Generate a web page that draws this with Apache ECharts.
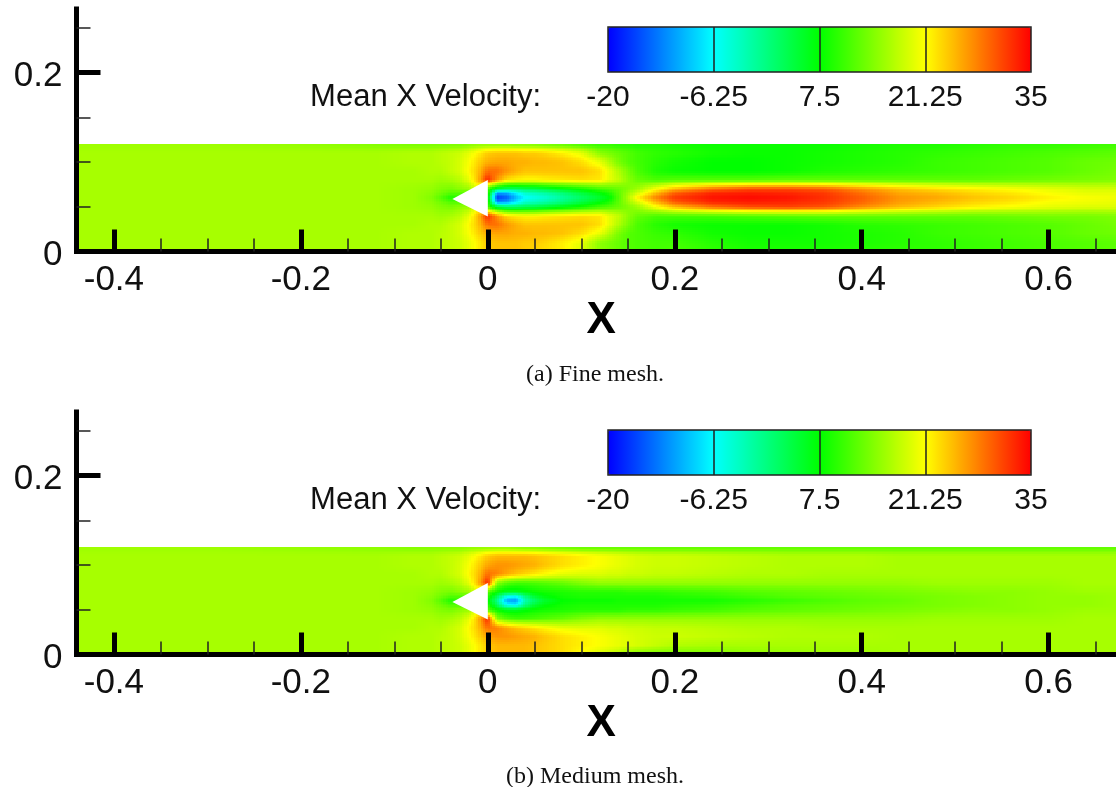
<!DOCTYPE html>
<html><head><meta charset="utf-8">
<style>html,body{margin:0;padding:0;background:#fff}#c{width:1116px;height:787px}</style>
<script src="https://cdn.jsdelivr.net/npm/echarts@6/dist/echarts.min.js"></script>
</head><body><div id="c"></div>
<script>
const xMajor = [-0.4,-0.2,0,0.2,0.4,0.6];
const xMinor = [-0.35,-0.3,-0.25,-0.15,-0.1,-0.05,0.05,0.1,0.15,0.25,0.3,0.35,0.45,0.5,0.55,0.65];
const yMajor = [0,0.2];
const yMinor = [0.05,0.1,0.15,0.25];
const barTicks = [-20,-6.25,7.5,21.25,35];
const barColors = ['#0000ff','#00ffff','#00ff00','#ffff00','#ff0000'];
const wedgeX = [-0.0379,0,0];
const wedgeY = [0.0587,0.080,0.039];
const xNodes = [-0.44,-0.3,-0.2,-0.12,-0.08,-0.06,-0.05,-0.04,-0.03,-0.02,-0.01,0,0.01,0.02,0.03,0.04,0.05,0.06,0.08,0.10,0.12,0.13,0.14,0.15,0.16,0.18,0.20,0.24,0.28,0.32,0.36,0.40,0.44,0.48,0.52,0.56,0.60,0.64,0.68];
const yNodes = [0.12,0.11,0.10,0.09,0.08,0.07,0.065,0.06,0.055,0.05,0.04,0.03,0.02,0.01,0];
const fineVelocity = [
[16,16,15.5,14.5, 14,14,14,14, 14,14.5,15,15, 15,15,14.5,14.5, 14,13.5,12.5,11, 10,10,9.5,9.5, 9,9,8.5,8, 8,8,8,8.5, 9,9,9.5,10, 10,10.5,11],
[16.5,16.5,16.5,16.5, 17,17,17.5,18, 18.5,20,22,24, 24.5,24.5,24.5,24, 24,23.5,22,20, 15,14,13,12, 11,10,9.5,8.5, 8,8,8.5,9, 9.5,10,10.5,11, 11.5,12,12.5],
[16.5,16.5,16.5,16.5, 17,17,17.5,18, 19,21,23.5,25.5, 26,26,25.5,25.5, 25,25,24.5,23, 20,17,14,12, 11,9.5,8.5,7.5, 7.5,8,8.5,9, 9.5,10.5,11,11.5, 12,13,13.5],
[16.5,16.5,16.5,16.5, 16.5,17,17,18, 19,21.5,24.5,29, 29,27,25.5,24.5, 24.5,24.5,24.5,24.5, 23,20,17,14, 11.5,9,8,7.5, 7.5,8,9,9.5, 10,10.5,11,11.5, 12,13,14],
[16.5,16.5,16.5,16.5, 16.5,16.5,16,16.5, 17.5,20,25,33, 27,23,22,21.5, 21.5,22,22.5,23, 22.5,20,18,15, 13,11.5,12,12, 12,12.5,12.5,12.5, 12.5,12.5,12.5,13, 13.5,14,14.5],
[16.5,16.5,16.5,16.5, 16,15.5,14.5,14, 15,16,20,11, 4,2,2,3, 3.5,4.5,6.5,8.5, 11,12,13,14.5, 16,21,25,29, 31,31,30,27, 24.5,23,22,21, 20,19,19],
[16.5,16.5,16.5,16.5, 16,15,13.5,12, 12,12,12,11, -12,-11,-7,-3.5, -2.5,-1.5,1,4, 7,9,12.5,16, 19,25,30,33, 33.5,33,32,29, 26,25,23.5,22.5, 21,20,20],
[16.5,16.5,16.5,16.5, 16,14.5,12,9, 10,10,10,9, -17,-15,-10,-6.5, -5,-4,-1,2, 5,7,12,17, 22,28,32,34, 34.5,34,32.5,30, 27,26,24.5,23.5, 22,21,20.5],
[16.5,16.5,16.5,16.5, 16,15,13.5,12, 12,12,12,11, -12,-11,-7,-3.5, -2.5,-1.5,1,4, 7,9,12.5,16, 19,25,30,33, 33.5,33,32,29.5, 26.5,25,23.5,22.5, 21,20.5,20],
[16.5,16.5,16.5,16.5, 16,15.5,14.5,14, 15,16,20,11, 4,2,2,3, 3.5,4.5,6.5,8.5, 11,12,13,14.5, 16,21,25,29, 31,31.5,30.5,27.5, 25,23.5,22,21, 20,19.5,19.5],
[16.5,16.5,16.5,16.5, 16.5,16.5,16,16.5, 17.5,20,25,33, 27,23,22,21.5, 21.5,22,22.5,23, 22.5,20,18,15, 13,11.5,11.5,11.5, 12,12.5,13,13, 13,13,13,13.5, 14,14,14.5],
[16.5,16.5,16.5,16.5, 16.5,17,17,18, 19,21.5,24.5,29, 29,27,25.5,24.5, 24.5,24.5,24.5,24.5, 23,20,17,14, 11.5,9.5,8.5,8, 8,8,8.5,9.5, 10,10.5,11,11.5, 12,13,14],
[16.5,16.5,16.5,16.5, 17,17,17.5,18, 19,21,23.5,25.5, 26,26,25.5,25.5, 25,25,24.5,23, 20,17,14,12, 11.5,10.5,10,8.5, 8,8,8.5,9, 9.5,10.5,11,11.5, 12,13,13.5],
[16.5,16.5,16.5,16.5, 17,17,17.5,18, 18.5,20,22,24, 24.5,24.5,24.5,24, 24,23.5,22,20, 15,14,13,12, 11.5,11,11,9.5, 8.5,8.5,8.5,9, 9.5,10,10.5,11, 11.5,12,12.5],
[16.5,16.5,16.5,16.5, 17,17,17.5,18, 18.5,20,22,24, 24.5,24.5,24.5,24, 23.5,23,22,19, 15,14,13,12, 11.5,11,11.5,10, 9,9,9,9.5, 10,10,10.5,11, 11.5,12,12.5]
];
const mediumVelocity = [
[16,16,15.5,15, 14.5,14.5,14.5,14.5, 14.5,15,15,15, 15,15,14.5,14, 14,13.5,13,12.5, 12.5,12.5,12.5,12.5, 12.5,12.5,12.5,12.5, 12.5,12.5,12.5,12.5, 12.5,12.5,12.5,12.5, 12.5,12.5,12.5],
[16.5,16.5,16.5,16.5, 17,17,17.5,18, 18.5,20,22,24, 25,25,25,25, 24.5,24,23,22, 21,20.5,20,19.5, 19,18.5,18.5,18, 17.5,17,17,17, 16.5,16.5,16.5,16.5, 16.5,16.5,16.5],
[16.5,16.5,16.5,16.5, 17,17,17.5,18, 19,21,23.5,26, 27,27,26.5,26, 25.5,24.5,23,22, 21,20.5,20,19.5, 19,18.5,18.5,18, 17.5,17,17,17, 16.5,16.5,16.5,16.5, 16.5,16.5,16.5],
[16.5,16.5,16.5,16.5, 16.5,17,17,18, 19,21.5,24.5,29, 28,26,24.5,23.5, 22.5,21.5,20,19.5, 19.5,19,19,18.5, 18.5,18,18,17.5, 17,17,16.5,16.5, 16.5,16.5,16.5,16.5, 16.5,16.5,16.5],
[16.5,16.5,16.5,16.5, 16.5,16.5,16,16.5, 17.5,20,25,33, 15,12,11,11, 11.5,12,13,14.5, 15.5,15.5,15.5,15.5, 15.5,15.5,15.5,15.5, 15.5,15.5,15.5,15.5, 15.5,16,16,16, 16,16.5,16.5],
[16.5,16.5,16.5,16.5, 16,15.5,14.5,14, 15,16,20,12, 8,6,6,7, 8,8.5,9,9.5, 9.5,9.5,9.5,10, 10,10,10.5,11, 12,12.5,13,13.5, 14,14.5,15,15, 15.5,16,16],
[16.5,16.5,16.5,16.5, 16,15,13.5,12, 12,12,12,10, 3,-5,-6,1, 5,7,8.5,9, 9,9,9,9, 9,9,9.5,10, 11,12,12.5,13, 13.5,14,14.5,15, 15.5,15.5,16],
[16.5,16.5,16.5,16.5, 16,14.5,12,9, 10,10,10,8, 0,-11,-12,-2, 2,5,7.5,8, 8,8,8.5,8.5, 8.5,8.5,8.5,8.5, 9.5,10.5,11.5,12.5, 13,14,14.5,15, 15.5,15.5,16],
[16.5,16.5,16.5,16.5, 16,15,13.5,12, 12,12,12,10, 3,-5,-6,1, 5,7,8.5,9, 9,9,9,9, 9,9,9.5,10, 11,12,12.5,13, 13.5,14,14.5,15, 15.5,15.5,16],
[16.5,16.5,16.5,16.5, 16,15.5,14.5,14, 15,16,20,12, 8,6,6,7, 8,8.5,9,9.5, 9.5,9.5,9.5,10, 10,10,10.5,11, 12,12.5,13,13.5, 14,14.5,15,15, 15.5,16,16],
[16.5,16.5,16.5,16.5, 16.5,16.5,16,16.5, 17.5,20,25,33, 15,12,11,11, 11.5,12,13,14.5, 15.5,15.5,15.5,15.5, 15.5,15.5,15.5,15.5, 15.5,15.5,15.5,15.5, 15.5,16,16,16, 16,16.5,16.5],
[16.5,16.5,16.5,16.5, 16.5,17,17,18, 19,21.5,24.5,29, 28,26,24.5,23.5, 22.5,21.5,20,19.5, 19.5,19,19,18.5, 18.5,18,18,17.5, 17,17,16.5,16.5, 16.5,16.5,16.5,16.5, 16.5,16.5,16.5],
[16.5,16.5,16.5,16.5, 17,17,17.5,18, 19,21,23.5,26, 27,27,26.5,26, 25.5,24.5,23,22, 21,20.5,20,19.5, 19,18.5,18.5,18, 17.5,17,17,17, 16.5,16.5,16.5,16.5, 16.5,16.5,16.5],
[16.5,16.5,16.5,16.5, 17,17,17.5,18, 18.5,20,22,24, 25,25,25,25, 24.5,24,23,22, 21,20.5,20,19.5, 19,18,17,16.5, 16.5,16.5,16.5,16.5, 16.5,16.5,16.5,16.5, 16.5,16.5,16.5],
[16.5,16.5,16.5,16.5, 17,17,17.5,18, 18.5,20,22,24, 25,25,25,25, 24.5,24,23,21, 19,18,17,15, 14,13.5,13.5,14, 15,15.5,16,16, 16.5,16.5,16.5,16.5, 16.5,16.5,16.5]
];

const FONT = '"Liberation Sans", Arial, sans-serif';
const SERIF = '"Liberation Serif", "DejaVu Serif", serif';
const rgb = barColors.map(c => [1,3,5].map(k => parseInt(c.substr(k,2),16)));
function colorOf(v){
  let k = 0;
  while (k < barTicks.length-2 && v > barTicks[k+1]) k++;
  const t = Math.max(0, Math.min(1, (v-barTicks[k])/(barTicks[k+1]-barTicks[k])));
  const a = rgb[k], b = rgb[k+1];
  return 'rgb(' + [0,1,2].map(n => Math.round(a[n]+(b[n]-a[n])*t)).join(',') + ')';
}
function cells(rows){
  const out = [];
  for (let j=0;j<yNodes.length-1;j++) for (let i=0;i<xNodes.length-1;i++)
    out.push([xNodes[i],yNodes[j],rows[j][i],i,j]);
  return out;
}
function field(rows){
  return function(params, api){
    const i = api.value(3), j = api.value(4);
    const p0 = api.coord([xNodes[i],yNodes[j]]), p1 = api.coord([xNodes[i+1],yNodes[j+1]]);
    const nx = Math.max(1,Math.ceil((p1[0]-p0[0])/3)), ny = Math.max(1,Math.ceil((p1[1]-p0[1])/2));
    const a=rows[j][i], b=rows[j][i+1], c=rows[j+1][i], d=rows[j+1][i+1];
    const kids = [];
    for (let m=0;m<nx;m++) for (let n=0;n<ny;n++){
      const u=(m+0.5)/nx, w=(n+0.5)/ny;
      const v=(a*(1-u)+b*u)*(1-w)+(c*(1-u)+d*u)*w;
      const x0=Math.round(p0[0]+(p1[0]-p0[0])*m/nx), x1=Math.round(p0[0]+(p1[0]-p0[0])*(m+1)/nx);
      const y0=Math.round(p0[1]+(p1[1]-p0[1])*n/ny), y1=Math.round(p0[1]+(p1[1]-p0[1])*(n+1)/ny);
      kids.push({type:'rect',shape:{x:x0,y:y0,width:x1-x0,height:y1-y0},style:{fill:colorOf(v)},silent:true});
    }
    return {type:'group',children:kids};
  };
}
function wedge(params, api){
  const pts = wedgeX.map((x,k)=>api.coord([x,wedgeY[k]]));
  return {type:'polygon',shape:{points:pts},style:{fill:'#ffffff'},silent:true};
}
const fmt = v => v===0 ? '0' : String(v);
const lbl = {color:'#111',fontFamily:FONT,fontSize:35};
const line = {show:true,onZero:false,lineStyle:{color:'#000',width:5,cap:'square'}};
function mainX(g){ return [
  {type:'value',gridIndex:g,position:'bottom',min:-0.44,max:0.672,z:10,splitLine:{show:false},axisLine:line,
   axisTick:{show:true,inside:true,length:22,lineStyle:{color:'#000',width:5},customValues:xMajor},
   axisLabel:{...lbl,margin:11,customValues:xMajor,formatter:fmt},
   name:'X',nameLocation:'middle',nameGap:38,nameTextStyle:{fontFamily:FONT,fontSize:44,fontWeight:'bold',color:'#000',padding:[0,0,0,10]}},
  {type:'value',gridIndex:g,position:'bottom',min:-0.44,max:0.672,z:10,splitLine:{show:false},axisLine:{show:false,onZero:false},
   axisTick:{show:true,inside:true,length:13,lineStyle:{color:'#222',width:1.5},customValues:xMinor},
   axisLabel:{show:false}}
];}
function mainY(g){ return [
  {type:'value',gridIndex:g,position:'left',min:0,max:0.271,z:10,splitLine:{show:false},axisLine:line,
   axisTick:{show:true,inside:true,length:24,lineStyle:{color:'#000',width:5},customValues:yMajor},
   axisLabel:{...lbl,margin:14,customValues:yMajor,formatter:v=>'{n|'+fmt(v)+'}',
     rich:{n:{color:'#111',fontFamily:FONT,fontSize:35,padding:[7,0,0,0]}}}},
  {type:'value',gridIndex:g,position:'left',min:0,max:0.271,z:10,splitLine:{show:false},axisLine:{show:false,onZero:false},
   axisTick:{show:true,inside:true,length:14,lineStyle:{color:'#222',width:1.5},customValues:yMinor},
   axisLabel:{show:false}}
];}
function barX(g){ return {type:'value',gridIndex:g,min:-20,max:35,z:10,splitLine:{show:false},axisLine:{show:false,onZero:false},
   axisTick:{show:true,inside:true,length:45,lineStyle:{color:'#222',width:1.5},customValues:barTicks.slice(1,4)},
   axisLabel:{color:'#111',fontFamily:FONT,fontSize:30,margin:11,customValues:barTicks,formatter:v=>String(v)}};}
function barY(g){ return {type:'value',gridIndex:g,min:0,max:1,show:false};}
function vm(idx,top){ return {type:'continuous',min:-20,max:35,orient:'horizontal',left:608,top:top,itemWidth:45,itemHeight:423,
   calculable:false,text:null,padding:0,seriesIndex:idx,dimension:2,z:0,inRange:{color:barColors},borderWidth:0};}
function fieldSeries(rows,xi,yi){ return {type:'custom',xAxisIndex:xi,yAxisIndex:yi,data:cells(rows),renderItem:field(rows),clip:true,silent:true,animation:false,progressive:0,z:1,encode:{x:0,y:1,value:2},tooltip:{show:false}};}
function wedgeSeries(xi,yi){ return {type:'custom',xAxisIndex:xi,yAxisIndex:yi,data:[[wedgeX[0],wedgeY[0]]],renderItem:wedge,silent:true,animation:false,z:2,encode:{x:0,y:1}};}
function cap(text,x,y,o){ return {text:text,left:x,top:y,padding:0,textAlign:o&&o.align||'center',textStyle:{fontFamily:o&&o.family||SERIF,fontSize:o&&o.size||24,fontWeight:'normal',color:'#111'}};}

const chart = echarts.init(document.getElementById('c'),null,{renderer:'canvas'});
chart.setOption({
  animation:false,backgroundColor:'#ffffff',
  title:[
    cap('(a) Fine mesh.',595,363),
    cap('(b) Medium mesh.',595,765),
    cap('Mean X Velocity:',541,82,{align:'right',family:FONT,size:31}),
    cap('Mean X Velocity:',541,485,{align:'right',family:FONT,size:31})
  ],
  grid:[
    {left:76.5,top:9,width:1039.5,height:242.5},
    {left:76.5,top:412,width:1039.5,height:242.5},
    {left:608,top:27,width:423,height:45,show:true,z:8,backgroundColor:'transparent',borderColor:'#222',borderWidth:1.5},
    {left:608,top:430,width:423,height:45,show:true,z:8,backgroundColor:'transparent',borderColor:'#222',borderWidth:1.5}
  ],
  xAxis:[...mainX(0),...mainX(1),barX(2),barX(3)],
  yAxis:[...mainY(0),...mainY(1),barY(2),barY(3)],
  visualMap:[vm([0],27),vm([2],430)],
  series:[fieldSeries(fineVelocity,0,0),wedgeSeries(0,0),fieldSeries(mediumVelocity,2,2),wedgeSeries(2,2)]
});
</script></body></html>
